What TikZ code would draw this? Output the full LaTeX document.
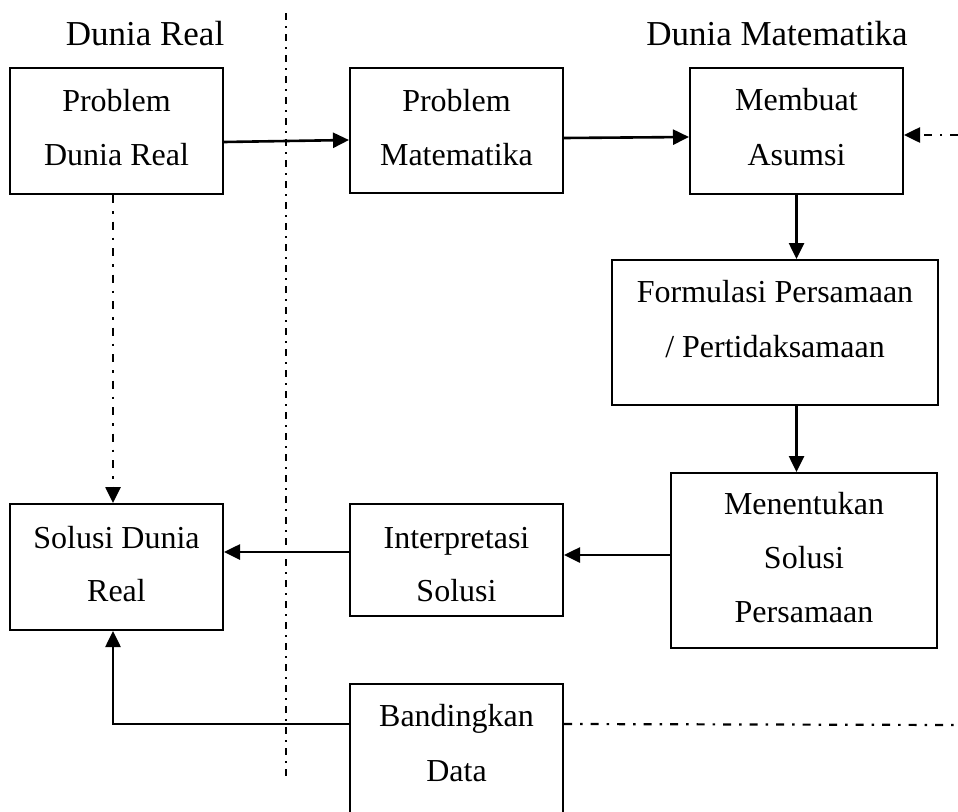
\documentclass[tikz,border=0pt]{standalone}
\usepackage{fontspec}
\setmainfont{Liberation Serif}
\usetikzlibrary{arrows.meta,fit}
\newcommand\lns[2]{{\fontsize{32}{#1}\selectfont\setlength\tabcolsep{0pt}\begin{tabular}[t]{c}#2\end{tabular}}}
\begin{document}
\begin{tikzpicture}[x=1pt,y=-1pt,
  box/.style={draw, line width=2pt, inner sep=0pt},
  txt/.style={anchor=base, inner sep=0pt},
  hdr/.style={anchor=base, inner sep=0pt, font=\fontsize{35}{40}\selectfont},
  arr/.style={line width=2.6pt, -{Triangle[length=16pt,width=15pt]}},
  dd/.style={dash pattern=on 8pt off 8pt on 2.5pt off 8pt},
  sep/.style={line width=1.7pt, dash pattern=on 7pt off 6pt on 2pt off 6pt}]
\clip (0,0) rectangle (958,811);
\useasboundingbox (0,0) rectangle (958,811);

% headers
\node[hdr] (hreal) at (145,45) {Dunia Real};
\node[hdr] (hmat) at (777,45) {Dunia Matematika};

% separator
\coordinate (septop) at (286,13);
\coordinate (sepbot) at (286,780);
\draw[sep] (septop) -- (sepbot);

% boxes
\node[box, fit={(10,68) (223,194)}] (pdr) {};
\node[box, fit={(350,68) (563,193)}] (pm) {};
\node[box, fit={(690,68) (903,194)}] (ma) {};
\node[box, fit={(612,260) (938,405)}] (form) {};
\node[box, fit={(671,473) (937,648)}] (men) {};
\node[box, fit={(350,504) (563,616)}] (interp) {};
\node[box, fit={(10,504) (223,630)}] (sol) {};
\node[box, fit={(350,684) (563,830)}] (band) {};

% texts
\node[txt] (tpdr) at (116.5,111) {\lns{54}{Problem\\Dunia Real}};
\node[txt] (tpm) at (456.5,111) {\lns{54}{Problem\\Matematika}};
\node[txt] (tma) at (796.5,110) {\lns{55}{Membuat\\Asumsi}};
\node[txt] (tform) at (775,302) {\lns{55}{Formulasi Persamaan\\/ Pertidaksamaan}};
\node[txt] (tmen) at (804,514) {\lns{54}{Menentukan\\Solusi\\Persamaan}};
\node[txt] (tinterp) at (456.5,548) {\lns{53}{Interpretasi\\Solusi}};
\node[txt] (tsol) at (116.5,548) {\lns{53}{Solusi Dunia\\Real}};
\node[txt] (tband) at (456.5,726) {\lns{55}{Bandingkan\\Data}};

% connectors
\coordinate (rin) at (958,135);
\coordinate (rout) at (958,725);
\draw[arr] ([yshift=-11pt]pdr.east) -- ([yshift=-9.5pt]pm.west);
\draw[arr] ([yshift=-7.5pt]pm.west -| pm.east) -- ([yshift=-6pt]ma.west);
\draw[arr, dd] (rin) -- (rin -| ma.east);
\draw[arr] (ma.south) -- (ma.south |- form.north);
\draw[arr] (ma.south |- form.south) -- (ma.south |- men.north);
\draw[arr] ([yshift=5pt]interp.east -| men.west) -- ([yshift=5pt]interp.east);
\draw[arr] ([yshift=8pt]interp.west) -- ([yshift=8pt]interp.west -| sol.east);
\draw[arr] ([yshift=-41pt]band.north west) -| ([xshift=-3.5pt]sol.south);
\draw[arr, dd] ([xshift=-3.5pt]pdr.south) -- ([xshift=-3.5pt]sol.north);
\draw[line width=2.2pt, dd] ([yshift=-41pt]band.north east) -- (rout);
\end{tikzpicture}
\end{document}
